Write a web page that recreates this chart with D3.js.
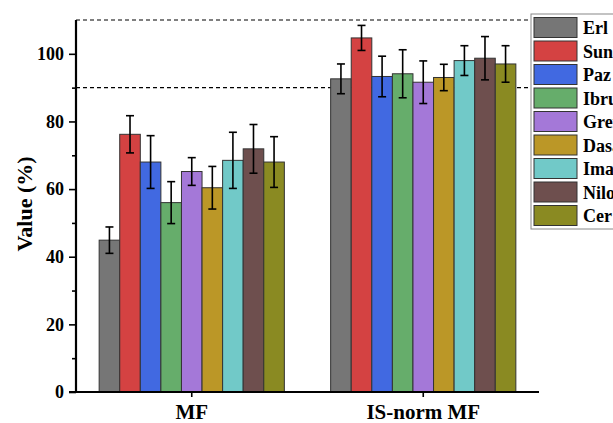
<html>
<head>
<script src="https://d3js.org/d3.v7.min.js"></script>
<style>
  body { margin: 0; background: #fff; }
  text { font-family: "Liberation Serif", "Times New Roman", serif; font-weight: bold; }
</style>
</head>
<body>
<div id="chart"></div>
<script>

// data
const groups = ['MF', 'IS-norm MF'];
const series = ['Erl', 'Suni', 'Paz', 'Ibru', 'Gref', 'Dasa', 'Ima', 'Nilo', 'Cer'];
const colors = ['#767676', '#d44242', '#4169e1', '#66ad6b', '#a478d8', '#bb9727', '#71c9c8', '#6e4f4e', '#8a8a22'];
const mfValues = [44.9, 76.2, 68.0, 56.0, 65.2, 60.4, 68.5, 71.9, 68.0];
const mfErrors = [3.9, 5.5, 7.8, 6.2, 4.1, 6.3, 8.3, 7.2, 7.5];
const isValues = [92.6, 104.7, 93.3, 94.1, 91.6, 93.0, 98.0, 98.7, 97.0];
const isErrors = [4.4, 3.7, 6.0, 7.1, 6.3, 3.9, 4.4, 6.4, 5.4];
const yTicks = [0, 20, 40, 60, 80, 100];
const refLines = [90, 110];

// constants
const W = 613, H = 423;
const margin = {top: 20, right: 74, bottom: 31, left: 76};
const width = W - margin.left - margin.right;
const height = H - margin.top - margin.bottom;

const svg = d3.select('#chart').append('svg')
  .attr('width', W)
  .attr('height', H);
const g = svg.append('g')
  .attr('transform', `translate(${margin.left}, ${margin.top})`);

const x0 = d3.scaleBand().domain(groups).range([0, width]);
const x1 = d3.scaleBand().domain(series).range([0, x0.bandwidth() * 0.8]);
const y = d3.scaleLinear().domain([0, 110]).range([height, 0]);

const rows = [];
groups.forEach((grp, gi) => {
  const vals = gi === 0 ? mfValues : isValues;
  const errs = gi === 0 ? mfErrors : isErrors;
  series.forEach((s, i) => rows.push({grp, s, color: colors[i], v: vals[i], e: errs[i]}));
});
const barX = d => x0(d.grp) + x0.bandwidth() * 0.1 + x1(d.s);

// reference lines
g.selectAll('.ref').data(refLines).enter().append('line')
  .attr('x1', 0).attr('x2', width)
  .attr('y1', d => y(d)).attr('y2', d => y(d))
  .style('stroke', '#000')
  .style('stroke-width', 1.2)
  .style('stroke-dasharray', '4,3');

// bars
g.selectAll('.bar').data(rows).enter().append('rect')
  .attr('x', barX)
  .attr('y', d => y(d.v))
  .attr('width', x1.bandwidth())
  .attr('height', d => height - y(d.v))
  .style('fill', d => d.color)
  .style('stroke', '#333')
  .style('stroke-width', 1);

// error bars
const err = g.selectAll('.err').data(rows).enter().append('g')
  .attr('transform', d => `translate(${barX(d) + x1.bandwidth() / 2}, 0)`);
err.append('line')
  .attr('y1', d => y(d.v + d.e)).attr('y2', d => y(d.v - d.e));
err.append('line')
  .attr('x1', -4).attr('x2', 4)
  .attr('y1', d => y(d.v + d.e)).attr('y2', d => y(d.v + d.e));
err.append('line')
  .attr('x1', -4).attr('x2', 4)
  .attr('y1', d => y(d.v - d.e)).attr('y2', d => y(d.v - d.e));
err.selectAll('line').style('stroke', '#000').style('stroke-width', 1.6);

// y axis with minor ticks
const yMinor = g.append('g')
  .call(d3.axisLeft(y).tickValues(d3.range(10, 110, 20)).tickSize(4).tickFormat(''));
const yAxis = g.append('g')
  .call(d3.axisLeft(y).tickValues(yTicks).tickSize(7).tickPadding(5));
[yMinor, yAxis].forEach(a => {
  a.select('.domain').remove();
  a.selectAll('line').style('stroke', '#000').style('stroke-width', 1.6);
});
yAxis.selectAll('text').style('font-size', '18px').style('fill', '#000')
  .style('font-family', '"Liberation Serif", serif').style('font-weight', 'bold');

g.append('line')
  .attr('x1', 0).attr('x2', 0).attr('y1', 0).attr('y2', height)
  .style('stroke', '#000').style('stroke-width', 2.2);

// x axis
const xAxis = g.append('g')
  .attr('transform', `translate(0, ${height})`)
  .call(d3.axisBottom(x0).tickSize(5).tickPadding(7));
xAxis.select('.domain').remove();
xAxis.selectAll('line').style('stroke', '#000').style('stroke-width', 1.6);
xAxis.selectAll('text').style('font-size', '21px').style('fill', '#000')
  .style('font-family', '"Liberation Serif", serif').style('font-weight', 'bold');
g.append('line')
  .attr('x1', -7).attr('x2', width).attr('y1', height).attr('y2', height)
  .style('stroke', '#000').style('stroke-width', 2.2);

// y title
svg.append('text')
  .attr('transform', `translate(32, ${margin.top + height / 2 - 2}) rotate(-90)`)
  .attr('text-anchor', 'middle')
  .style('font-size', '22px')
  .text('Value (%)');

// legend
const leg = svg.append('g').attr('transform', 'translate(531, 14)');
leg.append('rect')
  .attr('width', 90).attr('height', 215)
  .style('fill', '#fff').style('stroke', '#888').style('stroke-width', 1);
const item = leg.selectAll('.item').data(series).enter().append('g')
  .attr('transform', (d, i) => `translate(3, ${3.5 + i * 23.5})`);
item.append('rect')
  .attr('width', 43).attr('height', 20)
  .style('fill', (d, i) => colors[i])
  .style('stroke', '#333').style('stroke-width', 1);
item.append('text')
  .attr('x', 49).attr('y', 16.5)
  .style('font-size', '18px')
  .text(d => d);

</script>
</body>
</html>
